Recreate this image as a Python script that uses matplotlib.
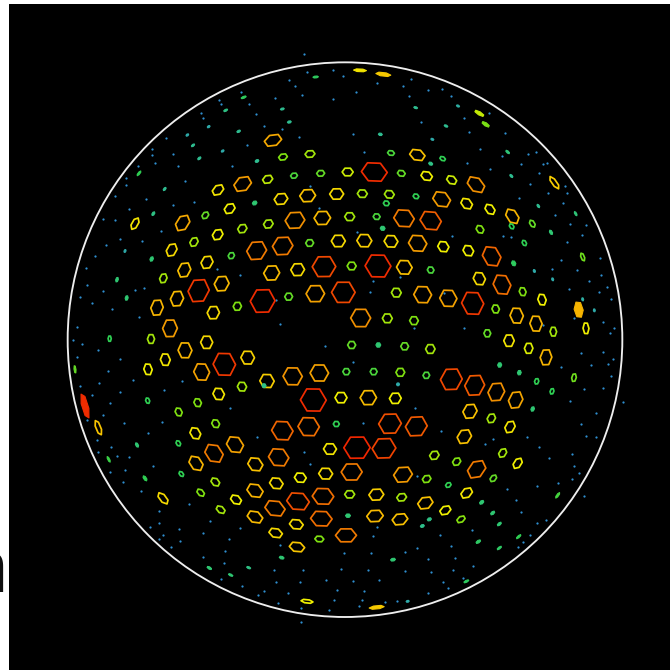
import numpy as np
import matplotlib
matplotlib.use("Agg")
import matplotlib.pyplot as plt
from matplotlib.collections import PolyCollection
from matplotlib.colors import LinearSegmentedColormap

# spots on a grid of 1/3 pixel, one list per quadrant
# (x, y, size), the quadrant origin gets added further down
spots_nw = [
    (819,421,9),(849,471,4.5),(930,462,5),(654,570,6.5),(728,552,9.5),(803,538,5.3),(882,527,3.5),(962,520,4),
    (843,597,7),(923,587,8),(764,609,2.5),(689,626,6),(616,646,4),(548,669,9),(405,671,6.5),(885,661,10),
    (967,654,8.3),(805,672,5),(727,686,5),(653,704,6),(582,726,5),(515,750,7),(929,729,4),(848,738,10.5),
    (770,752,10.5),(694,767,3.5),(455,777,2.5),(621,787,7),(553,810,8),(490,835,5),(351,839,2.5),(893,809,7),
    (815,819,8.3),(972,800,11.8),(665,851,8.3),(596,872,12.5),(531,896,8.3),(380,894,2.5),(866,890,4),(946,881,9.3),
    (788,903,13),(712,919,4.5),(640,938,7),(471,923,8.5),(510,985,9.5),
    (677,331,2.2),(847,327,2),(868,366,2),(716,394,2),(579,436,2),
    (598,475,2),(668,453,1.6),(771,483,2),(494,567,2),(460,641,2.2),(375,753,1.6),(626,380,1.6),(562,405,1.6),
]
spots_ne = [
    (38,516,5.5),(118,516,13),(199,520,4),(275,528,6),(350,540,5.5),(423,554,10),(247,465,8),(168,459,3.5),
    (287,491,2.2),(323,476,3),(5,582,7),(82,581,5),(163,583,5),(243,589,3),(320,598,9.5),(395,611,6.5),
    (465,628,6),(532,649,8.5),(154,610,3),(44,650,5),(125,650,3.5),(207,655,10.5),(287,662,11.2),(435,688,4.5),
    (143,685,2.5),(530,679,3),(592,671,4),(10,723,7),(88,722,7.5),(168,724,7),(248,730,9.5),(325,740,6),
    (400,752,6),(470,769,11),(568,729,3),(648,697,2.5),(743,771,4.2),(50,798,4.5),(129,798,13),(208,802,8),
    (287,810,3.5),(536,790,2.8),(433,836,7),(501,854,10.8),(563,875,4.5),(621,899,6),(25,877,11.8),(184,878,5),
    (263,884,9.3),(340,895,9.3),(413,910,12.5),(482,927,4.5),(77,954,10),(157,955,5),(237,962,4.5),
    (545,947,8.5),(603,971,8.5),(655,995,5),(753,985,6),(457,1000,4),(658,548,7.5),
    (242,323,2),(333,378,2),(136,403,2),(369,318,1.7),(292,418,1.6),(529,528,2),(610,618,2),(598,813,1.6),
    (653,838,1.6),(743,898,1.7),(778,931,1.6),(722,641,2.4),(518,456,2.4),
]
spots_sw = [
    (555,46,8.5),(620,22,7),(453,12,5),(329,11,3),(496,74,6.5),(444,103,6),(673,88,12.5),(743,68,7.3),
    (605,111,9.3),(801,138,7.5),(878,124,9.8),(958,114,9.3),(940,195,13),(726,155,5),(656,177,6.5),(593,203,4.5),
    (536,231,4.5),(443,197,3),(847,287,11),(926,275,10.8),(647,266,4.5),(586,295,6.5),(535,325,3),(705,329,9.3),
    (642,355,10.5),(588,385,8.5),(766,388,8),(836,367,10.5),(990,342,6.5),(977,416,7),(901,428,6),(829,445,7),
    (765,467,8.6),(646,441,5),(544,417,3),(411,330,2.5),(295,278,7.8),
    (489,490,7),(602,473,4.5),(708,494,6),(662,524,5),(825,520,10.5),(894,499,11.5),(969,484,10.8),(964,551,10.8),
    (765,546,8.3),(889,568,7),(827,594,7),(958,612,4.5),(891,636,7.8),(845,668,2.5),(746,698,2.2),(692,720,2.5),
    (628,699,2.5),(921,799,6),(792,152,2.2),
]
spots_se = [
    (50,30,4),(130,30,2.5),(209,34,4),(286,42,5),(522,17,6.5),(581,40,5.7),(633,67,8.5),(34,110,3.5),
    (116,110,3.5),(196,112,4.5),(274,121,3.5),(349,133,11.8),(419,151,11.3),(484,171,10),(542,195,9.2),(494,90,2.5),
    (553,113,2.5),(605,139,3),(651,169,3),(717,128,4.2),(18,188,6),(100,188,8.2),(181,190,6),(405,229,8),
    (469,250,5),(525,276,6.5),(593,222,2.5),(4,267,3),(165,266,11.5),(244,274,11.3),(388,305,8),(66,338,13.2),
    (147,340,12),(298,361,5),(365,380,4.5),(503,354,5),(548,385,6),(425,403,10.5),(50,411,10.5),(204,419,9.6),
    (275,432,4.5),(475,430,4),(340,450,3),(395,474,6.5),(44,478,5),(124,479,7.5),(200,487,5),(271,504,8),
    (331,526,6),(378,553,4.6),(39,542,2.5),(120,543,8.3),(195,553,8),(283,553,2.2),(262,573,2.1),(33,601,10.5),
    (440,502,2.5),(473,534,2.5),(493,567,2.5),(174,674,2.5),(218,799,1.6),(189,148,1.6),
]

# spots that come out filled in, mostly the ones squeezed at the rim
solid_nw = [(947,231,2.8),(731,292,2.8),(417,520,3),]
solid_ne = [(731,929,8.5),(75,211,6.5),(145,223,7.6),(433,340,5.4),(452,373,4.4),]
solid_sw = [(255,213,13),(326,373,3.2),(435,430,3),(225,103,4),(628,699,2.5),]
solid_se = [(125,817,7.6),(394,739,2.8),(430,620,2.7),(493,639,2.7),(551,605,3),(668,481,3.4),]

# the small blue ones, same grid, these all have one size
dots_nw = [
    (912,163),(920,216),(885,258),(868,241),(905,284),(826,295),(1000,210),(768,341),(722,276),(658,301),(664,313),
    (747,311),(603,339),(610,355),(791,378),(845,387),(898,411),(742,435),(499,414),(456,447),(455,464),(519,461),
    (464,490),(534,497),(556,542),(696,499),(413,498),(377,534),(377,554),(345,588),(437,596),(520,614),(387,627),
    (308,657),(344,659),(484,693),(427,722),(361,716),(319,734),(284,769),(258,804),(262,855),(310,872),(240,891),
    (275,908),(336,927),(405,869),(433,864),(418,952),(230,981),(840,973),(827,900),(720,825),(650,808),(930,558),
    (957,625),(581,607),(1000,298),
]
dots_ne = [
    (23,227),(125,250),(229,236),(204,258),(64,275),(223,288),(278,271),(322,268),(347,289),(259,366),(388,353),
    (463,338),(402,395),(55,402),(510,398),(88,455),(436,448),(500,469),(396,490),(465,508),(558,492),(625,491),
    (637,488),(604,456),(578,463),(612,518),(691,557),(695,580),(639,580),(586,552),(552,593),(660,645),(685,608),
    (705,673),(752,675),(742,705),(696,727),(796,773),(678,780),(725,811),(650,807),(799,825),(762,842),(817,860),
    (793,876),(702,867),(828,897),(104,875),(328,880),(716,955),(803,965),(837,985),(824,1000),(237,983),(388,984),
    (624,975),(505,707),(528,712),(351,709),(65,695),(194,830),(114,842),
]
dots_sw = [
    (975,33),(220,15),(245,28),(295,46),(231,66),(360,73),(324,107),(398,135),(545,137),(296,143),(241,154),
    (277,180),(491,165),(361,170),(330,205),(308,241),(262,255),(372,264),(487,262),(772,305),(444,295),(291,316),
    (333,337),(295,352),(388,367),(350,363),(459,393),(375,404),(331,410),(370,440),(423,467),(690,218),(911,351),
    (929,387),(478,527),(568,508),(631,558),(720,578),(537,581),(478,565),(449,577),(609,593),(490,601),(477,613),
    (541,618),(513,636),(687,612),(674,649),(609,665),(672,685),(822,705),(909,705),(662,731),(726,753),(829,742),
    (900,741),(979,735),(793,768),(774,780),(864,774),(834,803),(904,818),(988,825),(904,862),(1003,795),(840,629),
]
dots_se = [
    (739,55),(805,50),(835,71),(820,86),(769,89),(827,123),(679,96),(746,161),(805,160),(704,198),(865,200),
    (782,233),(739,267),(752,303),(782,307),(613,337),(642,370),(710,357),(716,394),(733,413),(712,432),(670,443),
    (606,453),(515,462),(543,495),(558,531),(607,564),(632,555),(575,305),(473,311),(450,328),(319,288),(84,264),
    (245,423),(748,482),(584,601),(563,621),(550,635),(412,586),(348,632),(314,600),(245,640),(211,651),(114,602),
    (108,655),(26,654),(280,673),(361,668),(415,692),(355,705),(287,710),(210,708),(99,704),(19,703),(132,735),
    (53,738),(325,741),(385,729),(339,759),(280,773),(86,768),(7,766),(80,795),(151,802),(187,797),(72,814),
    (55,81),(240,218),(125,575),
]

size_stops = [1, 2, 3, 4.5, 6, 8, 10, 11.5, 13.5]
stop_colors = ["#2f8fd0", "#2fbf90", "#2fd050", "#80e010", "#f0f000", "#f8c000", "#f09000", "#f05000", "#f02000"]

CENTER_X, CENTER_Y = 1035, 1019
RADIUS = 832
PIX = 3  # grid units for one pixel


def join(nw, ne, sw, se):
    parts = []
    for rows, dx, dy in [(nw, 0, 0), (ne, 1005, 0), (sw, 0, 1005), (se, 1005, 1005)]:
        a = np.array(rows, dtype=float)
        a[:, 0] += dx
        a[:, 1] += dy
        parts.append(a)
    return np.vstack(parts)


def hexagon(x, y, size):
    # flat top hexagon, squeezed along the radius like a spot on a sphere
    ang = np.deg2rad(np.arange(0, 360, 60))
    vx = size * PIX * np.cos(ang)
    vy = size * PIX * np.sin(ang)
    dx, dy = x - CENTER_X, y - CENTER_Y
    rho = min(np.hypot(dx, dy) / RADIUS, 0.999)
    if rho > 0:
        ex, ey = dx / np.hypot(dx, dy), dy / np.hypot(dx, dy)
        # keep at least a pixel across, else the little ones vanish at the rim
        s = max(np.sqrt(1 - rho ** 2), min(1.0, 1.0 / size))
        along = (vx * ex + vy * ey) * (s - 1)
        vx = vx + along * ex
        vy = vy + along * ey
    return np.column_stack([x + vx, y + vy])


spots = join(spots_nw, spots_ne, spots_sw, spots_se)
solid = join(solid_nw, solid_ne, solid_sw, solid_se)
dots = join(dots_nw, dots_ne, dots_sw, dots_se)

lo, hi = size_stops[0], size_stops[-1]
cmap = LinearSegmentedColormap.from_list(
    "spots", [((v - lo) / (hi - lo), c) for v, c in zip(size_stops, stop_colors)])


def spot_color(r):
    return cmap((min(r, hi) - lo) / (hi - lo))


fig = plt.figure(figsize=(6.7, 6.7), dpi=100, facecolor="white")
fig.text(7 / 670, 1 - 592 / 670, "n", fontsize=53, ha="right", va="baseline", color="#111111",
         family="Liberation Sans", zorder=-1)

ax = fig.add_axes([9 / 670, 0, 661 / 670, 666 / 670])
ax.set_facecolor("black")
ax.set_xlim(27, 2010)
ax.set_ylim(2010, 12)
ax.set_axis_off()
ax.add_patch(plt.Rectangle((27, 12), 1983, 1998, color="black", zorder=0))

# the very small ones have no room for a hole
rings = spots[spots[:, 2] > 2.8]
blobs = np.vstack([spots[spots[:, 2] <= 2.8], solid])

ax.add_collection(PolyCollection([hexagon(x, y, r) for x, y, r in rings], facecolors="none",
                                 edgecolors=[spot_color(r) for r in rings[:, 2]], linewidths=1.25, zorder=2))
ax.add_collection(PolyCollection([hexagon(x, y, r) for x, y, r in blobs],
                                 facecolors=[spot_color(r) for r in blobs[:, 2]],
                                 edgecolors=[spot_color(r) for r in blobs[:, 2]], linewidths=0.8, zorder=2))

ax.scatter(dots[:, 0], dots[:, 1], s=2.6, color=stop_colors[0], linewidths=0, zorder=1)

ax.add_patch(plt.Circle((CENTER_X, CENTER_Y), RADIUS, fill=False, ec="#eeeeee", lw=1.35, zorder=3))

fig.savefig("out.png", dpi=100)
